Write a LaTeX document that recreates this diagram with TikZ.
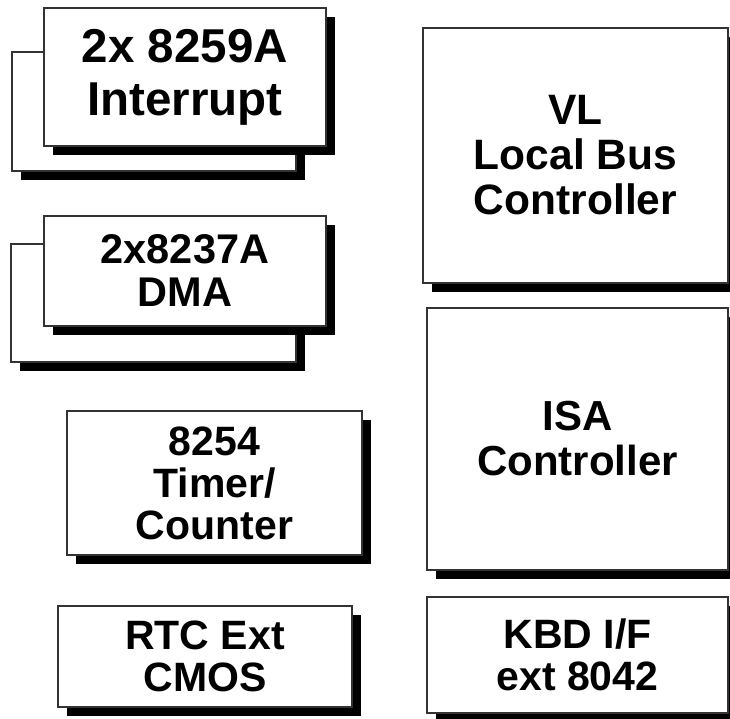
\documentclass[tikz,border=0pt]{standalone}
\usepackage{fontspec}
\setmainfont{Liberation Sans}
\usepackage{tikz}
\usetikzlibrary{shadows}

\begin{document}
\begin{tikzpicture}[x=1pt,y=-1pt,
		chip/.style={draw=black!80,line width=1.2pt,fill=white,inner sep=0pt,
			align=center,font=\bfseries\fontsize{41}{42}\selectfont,
			drop shadow={shadow xshift=9pt,shadow yshift=-9pt,fill=black,opacity=1}}]
		% Page
		\useasboundingbox (0,0) rectangle (730,719);
		
		% Box centres (left column)
		\coordinate (IB) at (154,111.5);
		\coordinate (IF) at (185,77);
		\coordinate (DB) at (153.5,303);
		\coordinate (DF) at (185,271);
		\coordinate (T) at (214.5,483);
		\coordinate (R) at (205,656.5);
		
		% Box centres (right column)
		\coordinate (V) at (575.5,155.5);
		\coordinate (S) at (577.5,439);
		\coordinate (K) at (577.5,655);
		
		% Interrupt controllers (two stacked)
		\node[chip,minimum width=284,minimum height=119] (intback) at (IB) {};
		\node[chip,minimum width=282,minimum height=138,
			font=\bfseries\fontsize{47.5}{53}\selectfont] (intfront) at (IF) {2x 8259A\\Interrupt};
		
		% DMA controllers (two stacked)
		\node[chip,minimum width=285,minimum height=118] (dmaback) at (DB) {};
		\node[chip,minimum width=282,minimum height=110,
			font=\bfseries\fontsize{41.5}{43}\selectfont] (dmafront) at (DF) {2x8237A\\DMA};
		
		% Timer and clock
		\node[chip,minimum width=295,minimum height=144] (timer) at (T) {8254\\Timer/\\Counter};
		\node[chip,minimum width=294,minimum height=101] (rtc) at (R) {RTC Ext\\CMOS};
		
		% Bus controllers
		\node[chip,minimum width=305,minimum height=255,
			font=\bfseries\fontsize{42.5}{45}\selectfont] (vlbus) at (V) {VL\\Local Bus\\Controller};
		\node[chip,minimum width=301,minimum height=262,
			font=\bfseries\fontsize{42}{45}\selectfont] (isa) at (S) {ISA\\Controller};
		
		% Keyboard interface
		\node[chip,minimum width=301,minimum height=116] (kbd) at (K) {KBD I/F\\ext 8042};
	\end{tikzpicture}
\end{document}
